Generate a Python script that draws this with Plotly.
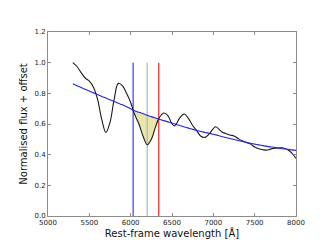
import plotly.graph_objects as go

wavelength = [5300, 5350, 5400, 5450, 5500, 5550, 5600, 5650, 5700, 5750,
              5800, 5850, 5900, 5950, 6000, 6030, 6050, 6100, 6150, 6200,
              6250, 6300, 6340, 6400, 6450, 6500, 6530, 6550, 6600, 6650,
              6700, 6750, 6800, 6850, 6900, 6950, 7000, 7030, 7100, 7150,
              7200, 7250, 7300, 7350, 7400, 7450, 7500, 7550, 7600, 7650,
              7700, 7750, 7800, 7850, 7900, 7950, 8000]

flux = [1.000, 0.975, 0.935, 0.900, 0.880, 0.840, 0.760, 0.630, 0.545, 0.610,
        0.760, 0.865, 0.850, 0.800, 0.740, 0.690, 0.660, 0.600, 0.520, 0.465,
        0.500, 0.580, 0.635, 0.672, 0.655, 0.600, 0.588, 0.598, 0.645, 0.665,
        0.635, 0.590, 0.555, 0.520, 0.513, 0.535, 0.570, 0.582, 0.550, 0.538,
        0.528, 0.522, 0.505, 0.490, 0.480, 0.470, 0.450, 0.438, 0.432, 0.430,
        0.438, 0.442, 0.444, 0.444, 0.432, 0.410, 0.375]

continuum = [0.862, 0.850, 0.838, 0.826, 0.815, 0.803, 0.792, 0.780, 0.769, 0.758,
             0.747, 0.736, 0.725, 0.713, 0.700, 0.690, 0.686, 0.676, 0.667, 0.657,
             0.648, 0.639, 0.632, 0.622, 0.614, 0.606, 0.601, 0.597, 0.589, 0.581,
             0.573, 0.565, 0.558, 0.551, 0.545, 0.539, 0.533, 0.529, 0.519, 0.512,
             0.506, 0.499, 0.493, 0.486, 0.480, 0.474, 0.469, 0.464, 0.459, 0.454,
             0.450, 0.446, 0.442, 0.438, 0.435, 0.431, 0.428]

marker_wl = [6030, 6200, 6340]
marker_colors = ["#3b3bff", "#b4b4b4", "#ff2020"]
marker_top = 1.0
fill_range = (6030, 6340)

x_ticks = [5000, 5500, 6000, 6500, 7000, 7500, 8000]
y_ticks = [0.0, 0.2, 0.4, 0.6, 0.8, 1.0, 1.2]

idx = [i for i, w in enumerate(wavelength) if fill_range[0] <= w <= fill_range[1]]
fw = [wavelength[i] for i in idx]
fc = [continuum[i] for i in idx]
ff = [flux[i] for i in idx]

fig = go.Figure()
fig.add_trace(go.Scatter(x=fw, y=fc, mode="lines", line=dict(width=0, shape="spline"),
                         hoverinfo="skip", showlegend=False))
fig.add_trace(go.Scatter(x=fw, y=ff, mode="lines", line=dict(width=0, shape="spline"),
                         fill="tonexty", fillcolor="rgb(232,230,168)",
                         hoverinfo="skip", showlegend=False))
for w, c in zip(marker_wl, marker_colors):
    fig.add_trace(go.Scatter(x=[w, w], y=[0, marker_top], mode="lines",
                             line=dict(color=c, width=1.2), showlegend=False))
fig.add_trace(go.Scatter(x=wavelength, y=flux, mode="lines",
                         line=dict(color="#1a1a1a", width=1.1, shape="spline", smoothing=1),
                         showlegend=False))
fig.add_trace(go.Scatter(x=wavelength, y=continuum, mode="lines",
                         line=dict(color="#2020ff", width=1.1, shape="spline"),
                         showlegend=False))

axis_common = dict(showgrid=False, zeroline=False, showline=True, linecolor="#8c8c8c",
                   linewidth=1, mirror="ticks", ticks="inside", ticklen=3,
                   tickcolor="#8c8c8c", tickwidth=1,
                   tickfont=dict(family="DejaVu Sans", size=7, color="#222"))

fig.update_xaxes(range=[5000, 8000], tickvals=x_ticks,
                 ticktext=[str(t) for t in x_ticks],
                 title=dict(text="Rest-frame wavelength [Å]", standoff=2,
                            font=dict(family="DejaVu Sans", size=10, color="#111")),
                 **axis_common)
fig.update_yaxes(range=[0, 1.2], tickvals=y_ticks,
                 ticktext=[f"{t:.1f}" for t in y_ticks],
                 title=dict(text="Normalised flux + offset", standoff=4,
                            font=dict(family="DejaVu Sans", size=10, color="#111")),
                 **axis_common)

fig.update_layout(width=320, height=240, margin=dict(l=40, r=32, t=24, b=25),
                  paper_bgcolor="white", plot_bgcolor="white", showlegend=False)

fig.write_html("out.html")
